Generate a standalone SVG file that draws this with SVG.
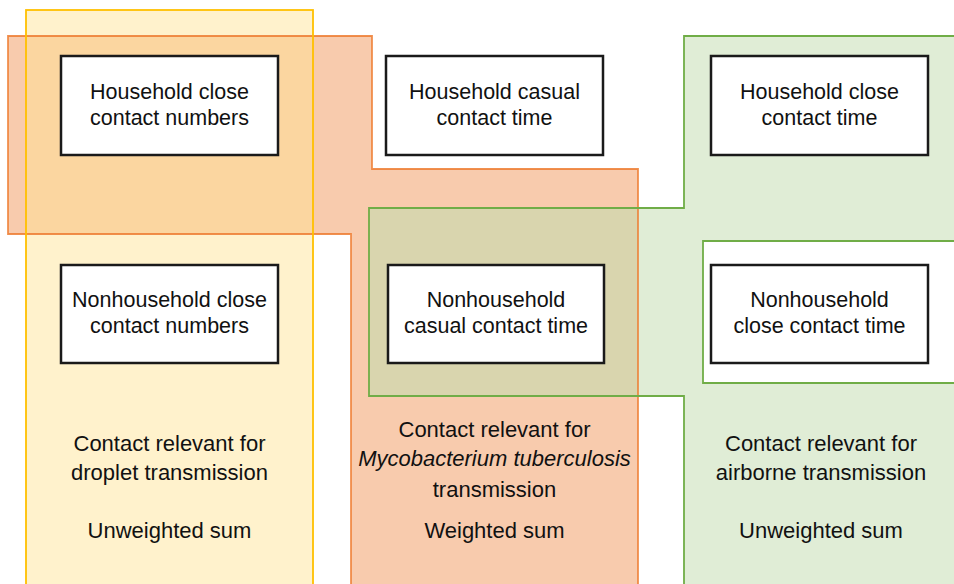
<svg xmlns="http://www.w3.org/2000/svg" width="954" height="584" viewBox="0 0 954 584">
<style>
.node rect{fill:#fff;stroke:#1a1a1a;stroke-width:2.5}
text{font-family:"Liberation Sans",Arial,sans-serif;fill:#111;text-anchor:middle}
.nt{font-size:21.5px}
.bt{font-size:22px}
.edge{fill:none;stroke-width:1.8}
</style>
<rect width="954" height="584" fill="#fff"/>
<g id="regions">
<polygon id="tb-fill" points="8,36 372,36 372,169 638,169 638,590 351,590 351,234 8,234" fill="#F8CBAD"/>
<polygon id="airborne-fill" points="369,208 684,208 684,36 960,36 960,241 703,241 703,383 960,383 960,590 684,590 684,396 369,396" fill="#E0EDD6"/>
<rect id="droplet-fill" x="26" y="10" width="287" height="590" fill="#FFF2CC"/>
<rect x="26" y="36" width="287" height="198" fill="#FBD6A0"/>
<rect x="369" y="208" width="269" height="188" fill="#D9D5AE"/>
<polygon class="edge" points="8,36 372,36 372,169 638,169 638,590 351,590 351,234 8,234" stroke="#ED7D31" stroke-opacity="0.85"/>
<polygon class="edge" points="369,208 684,208 684,36 960,36 960,241 703,241 703,383 960,383 960,590 684,590 684,396 369,396" stroke="#70AD47"/>
<rect class="edge" x="26" y="10" width="287" height="590" stroke="#FFC000"/>
</g>
<g id="connectors"></g>
<g id="n1" class="node"><rect x="61" y="56" width="217" height="99"/><text class="nt" x="169.5" y="99">Household close</text><text class="nt" x="169.5" y="125">contact numbers</text></g>
<g id="n2" class="node"><rect x="386" y="56" width="217" height="99"/><text class="nt" x="494.5" y="99">Household casual</text><text class="nt" x="494.5" y="125">contact time</text></g>
<g id="n3" class="node"><rect x="711" y="56" width="217" height="99"/><text class="nt" x="819.5" y="99">Household close</text><text class="nt" x="819.5" y="125">contact time</text></g>
<g id="n4" class="node"><rect x="61" y="265" width="217" height="98"/><text class="nt" x="169.5" y="307">Nonhousehold close</text><text class="nt" x="169.5" y="333">contact numbers</text></g>
<g id="n5" class="node"><rect x="388" y="265" width="216" height="98"/><text class="nt" x="496" y="307">Nonhousehold</text><text class="nt" x="496" y="333">casual contact time</text></g>
<g id="n6" class="node"><rect x="711" y="265" width="217" height="98"/><text class="nt" x="819.5" y="307">Nonhousehold</text><text class="nt" x="819.5" y="333">close contact time</text></g>
<g id="label-droplet">
<text class="bt" x="169.5" y="451">Contact relevant for</text>
<text class="bt" x="169.5" y="480">droplet transmission</text>
<text class="bt" x="169.5" y="538">Unweighted sum</text>
</g>
<g id="label-tb">
<text class="bt" x="494.5" y="437">Contact relevant for</text>
<text class="bt" x="494.5" y="466" font-style="italic">Mycobacterium tuberculosis</text>
<text class="bt" x="494.5" y="497">transmission</text>
<text class="bt" x="494.5" y="538">Weighted sum</text>
</g>
<g id="label-airborne">
<text class="bt" x="821" y="451">Contact relevant for</text>
<text class="bt" x="821" y="480">airborne transmission</text>
<text class="bt" x="821" y="538">Unweighted sum</text>
</g>
</svg>
